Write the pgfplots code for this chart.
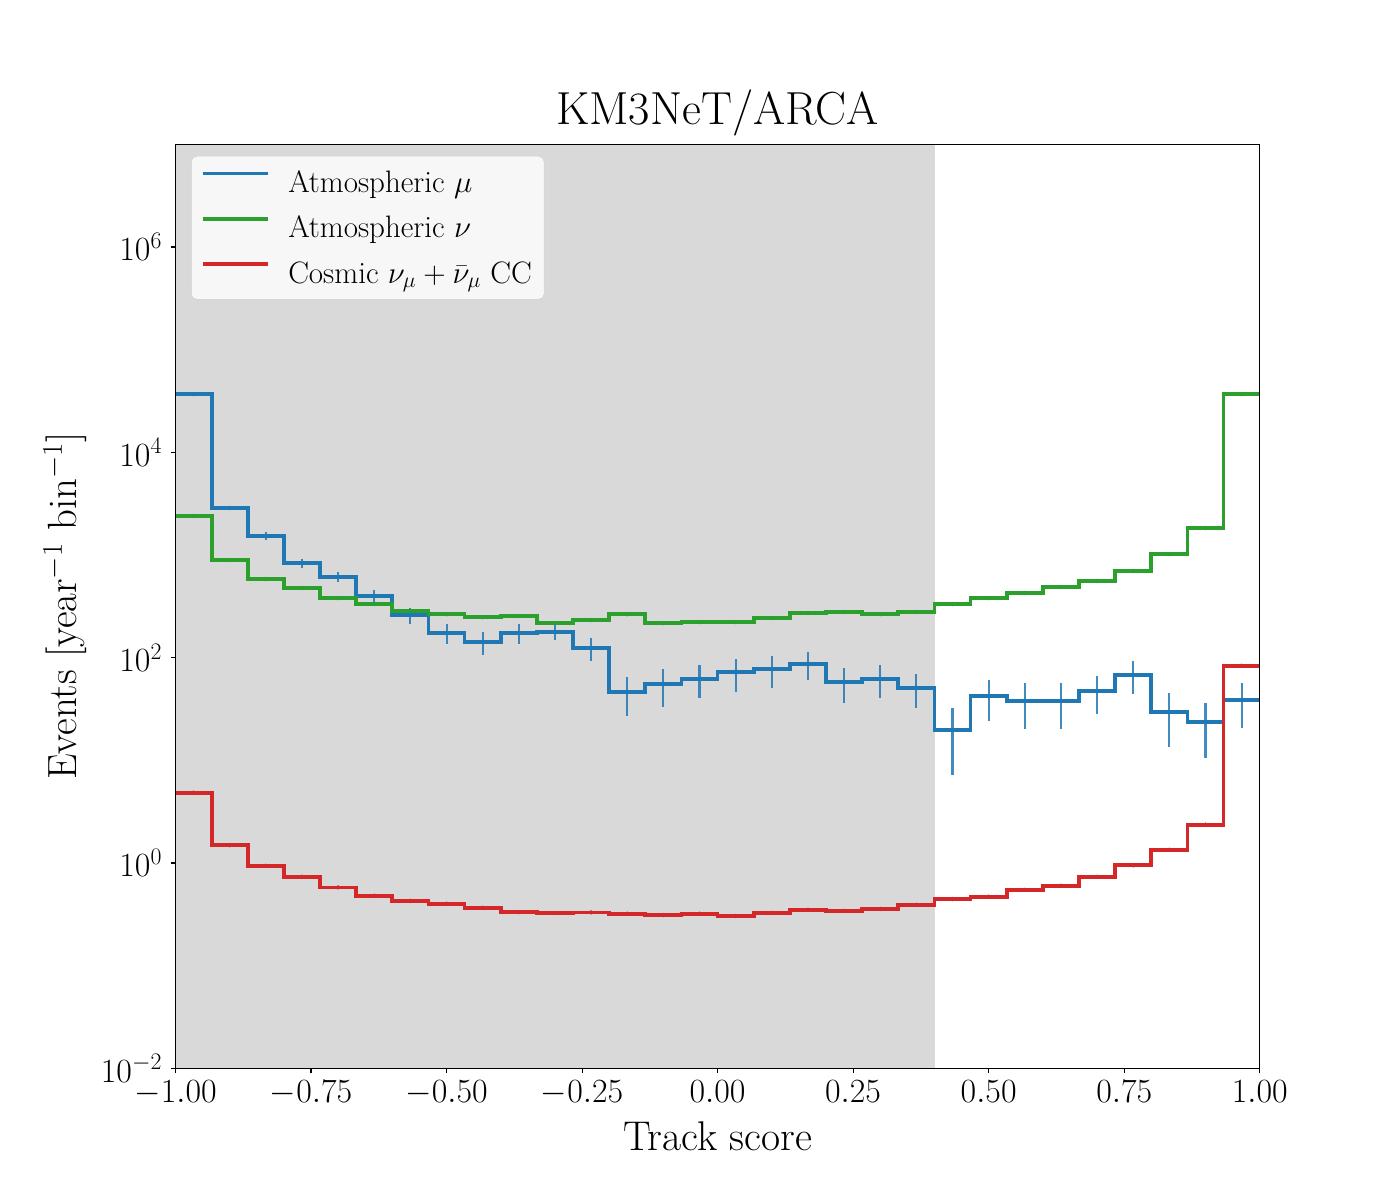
\RequirePackage{fix-cm}
\documentclass[border=0pt]{standalone}
\usepackage{fontspec}
\usepackage{pgfplots}
\usepackage{pgfplotstable}
\pgfplotsset{compat=1.18}
\definecolor{tabblue}{HTML}{1F77B4}
\definecolor{tabgreen}{HTML}{2CA02C}
\definecolor{tabred}{HTML}{D62728}
\definecolor{spangray}{HTML}{808080}

% lo = left bin edge, c = bin centre; last row closes the step at x=1
\pgfplotstableread{
lo c mu emu nu enu cc ecc
-1.00000 -0.96667 36900 500 2393 25 4.83 0.05
-0.93333 -0.90000 2863 60 891 10 1.49 0.015
-0.86667 -0.83333 1527 137 582 7 0.94 0.01
-0.80000 -0.76667 834 83 476 6 0.734 0.008
-0.73333 -0.70000 610 68 380 5 0.578 0.006
-0.66667 -0.63333 398 57 332 5 0.480 0.005
-0.60000 -0.56667 260 47 284 4 0.428 0.005
-0.53333 -0.50000 174 38 265 4 0.401 0.004
-0.46667 -0.43333 142 36 248 4 0.366 0.004
-0.40000 -0.36667 174 39 254 4 0.332 0.004
-0.33333 -0.30000 178 30 217 4 0.325 0.004
-0.26667 -0.23333 124 32 232 4 0.330 0.004
-0.20000 -0.16667 46 19 265 4 0.320 0.004
-0.13333 -0.10000 55 22 217 4 0.311 0.004
-0.06667 -0.03333 62 22 222 4 0.320 0.004
0.00000 0.03333 72 26 222 4 0.304 0.004
0.06667 0.10000 77 26 243 4 0.327 0.004
0.13333 0.16667 87 27 272 4 0.350 0.004
0.20000 0.23333 58 22 278 4 0.342 0.004
0.26667 0.30000 62 22 265 4 0.356 0.004
0.33333 0.36667 51 19 278 4 0.392 0.004
0.40000 0.43333 19.7 12.5 332 5 0.445 0.005
0.46667 0.50000 42 18 380 5 0.469 0.005
0.53333 0.56667 38 18 426 6 0.548 0.006
0.60000 0.63333 38 18 487 6 0.600 0.006
0.66667 0.70000 47 19 557 7 0.734 0.008
0.73333 0.76667 68 24 697 8 0.948 0.01
0.80000 0.83333 29.4 16 1021 11 1.345 0.015
0.86667 0.90000 23.5 13 1828 18 2.36 0.025
0.93333 0.96667 38.6 18 36900 200 83.3 0.8
1.00000 1.00000 38.6 0 36900 0 83.3 0
}\histdata

\begin{document}
\begin{tikzpicture}
\begin{axis}[
  at={(0,0)}, anchor=south west,
  scale only axis, width=10.842in, height=9.24in,
  xmin=-1, xmax=1, ymin=1e-2, ymax=1e7, ymode=log,
  xtick={-1,-0.75,-0.5,-0.25,0,0.25,0.5,0.75,1},
  ytick={1e-2,1,1e2,1e4,1e6},
  yminorticks=false, xminorticks=false,
  scaled x ticks=false,
  tick align=outside, xtick pos=bottom, ytick pos=left,
  major tick length=3.5pt,
  tick style={black, line width=0.8pt},
  axis line style={line width=0.8pt},
  axis on top,
  tick label style={font=\fontsize{24.5}{29}\selectfont},
  xticklabel style={/pgf/number format/fixed, /pgf/number format/fixed zerofill, /pgf/number format/precision=2, inner ysep=5pt},
  yticklabel style={inner xsep=6pt},
  title={KM3NeT/ARCA},
  title style={font=\fontsize{33.5}{40}\selectfont, at={(axis description cs:0.5,1.012)}, anchor=base},
  xlabel={Track score},
  xlabel style={font=\fontsize{30}{35}\selectfont, at={(axis description cs:0.5,-0.0894)}, anchor=base},
  ylabel={Events [year$^{-1}$ bin$^{-1}$]},
  ylabel style={font=\fontsize{29.5}{35}\selectfont, at={(axis description cs:-0.0911,0.5)}, anchor=base},
  legend cell align=left,
  legend image code/.code={\draw[#1, line width=2.7pt, draw opacity=1] (0pt,6.5pt) -- (46.8pt,6.5pt);},
  legend style={at={(axis description cs:0.0143,0.9874)}, anchor=north west,
    font=\fontsize{22.4}{27}\selectfont, draw=black!20, fill=white, fill opacity=0.8,
    draw opacity=0.8, text opacity=1, rounded corners=4pt,
    inner xsep=7pt, inner ysep=8.3pt, row sep=11.5pt, column sep=11.6pt},
]
\addplot[draw=spangray, draw opacity=0.3, fill=spangray, fill opacity=0.3, line width=1pt, forget plot]
  coordinates {(-1,1e-2) (-1,1e7) (0.4,1e7) (0.4,1e-2)} -- cycle;

\addplot[tabblue, line width=2.7pt, const plot mark left] table[x=lo, y=mu] {\histdata};
\addlegendentry{Atmospheric $\mu$}
\addplot[tabgreen, line width=2.7pt, const plot mark left] table[x=lo, y=nu] {\histdata};
\addlegendentry{Atmospheric $\nu$}
\addplot[tabred, line width=2.7pt, const plot mark left] table[x=lo, y=cc] {\histdata};
\addlegendentry{Cosmic $\nu_\mu + \bar{\nu}_\mu$ CC}

\addplot[tabblue, opacity=0.85, only marks, mark=*, mark size=1.4pt, forget plot,
  skip coords between index={30}{31},
  error bars/.cd, y dir=both, y explicit, error mark=none,
  error bar style={line width=1.5pt, tabblue, opacity=0.85}]
  table[x=c, y=mu, y error=emu] {\histdata};
\addplot[tabgreen, opacity=0.85, only marks, mark=*, mark size=1.4pt, forget plot,
  skip coords between index={30}{31},
  error bars/.cd, y dir=both, y explicit, error mark=none,
  error bar style={line width=1.5pt, tabgreen, opacity=0.85}]
  table[x=c, y=nu, y error=enu] {\histdata};
\addplot[tabred, opacity=0.85, only marks, mark=*, mark size=1.4pt, forget plot,
  skip coords between index={30}{31},
  error bars/.cd, y dir=both, y explicit, error mark=none,
  error bar style={line width=1.5pt, tabred, opacity=0.85}]
  table[x=c, y=cc, y error=ecc] {\histdata};
\end{axis}
\pgfresetboundingbox
\useasboundingbox (-1.755in,-1.317in) rectangle (12.245in,10.683in);
\end{tikzpicture}
\end{document}
